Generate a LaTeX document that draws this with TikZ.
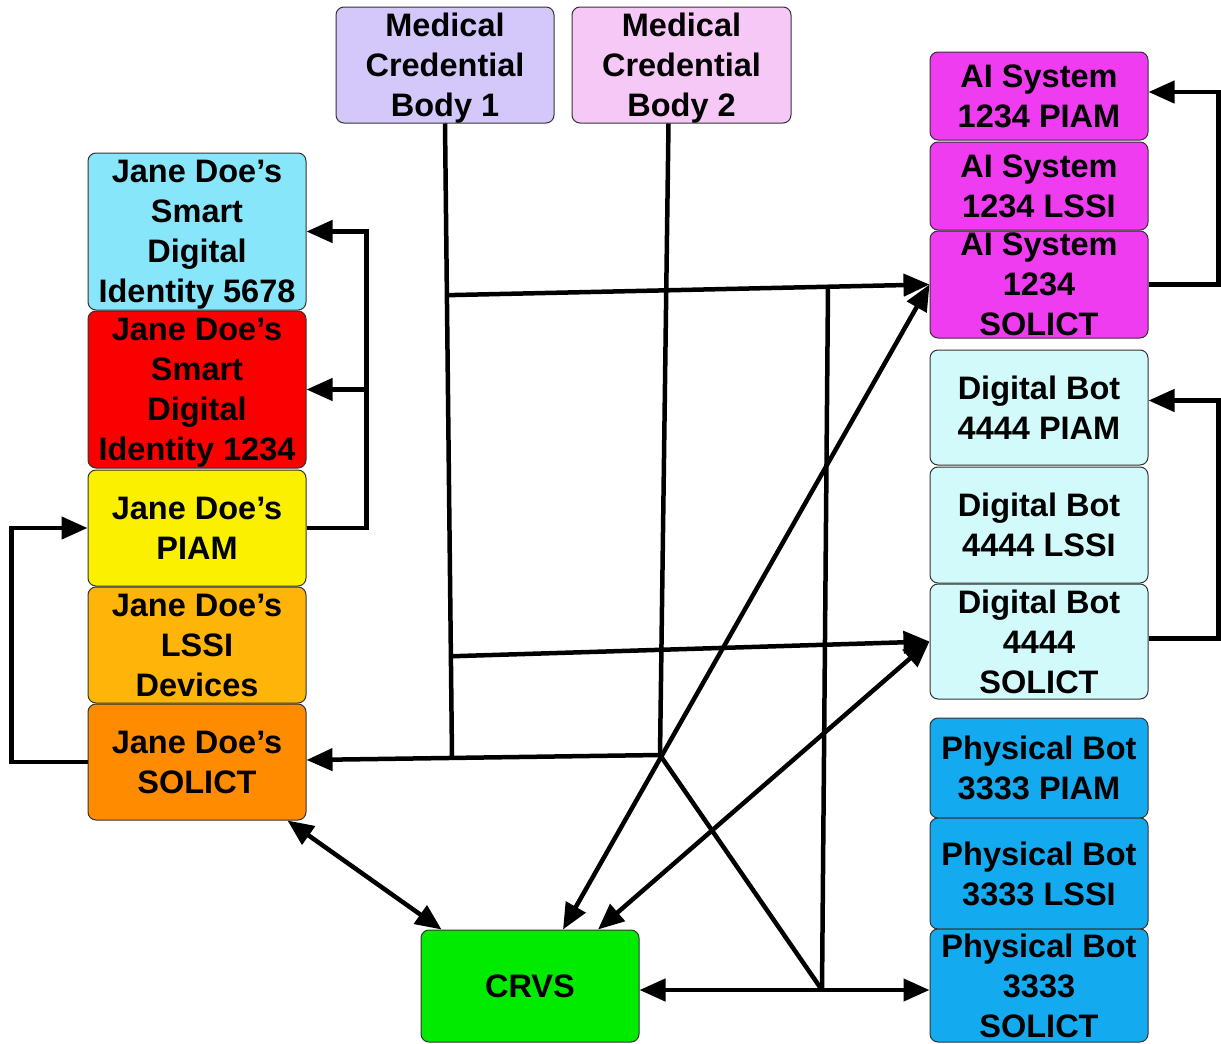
\documentclass[tikz,border=0pt]{standalone}
\usepackage{fontspec}
\setmainfont{Liberation Sans}
\usetikzlibrary{arrows.meta,calc}
\definecolor{cMCBa}{HTML}{D4C8FA}
\definecolor{cMCBb}{HTML}{F5C8F5}
\definecolor{cBlue}{HTML}{87E6FA}
\definecolor{cRed}{HTML}{FA0000}
\definecolor{cYel}{HTML}{FAF000}
\definecolor{cLssi}{HTML}{FFB40A}
\definecolor{cSol}{HTML}{FF8C00}
\definecolor{cAI}{HTML}{F03CF0}
\definecolor{cDB}{HTML}{D2FAFA}
\definecolor{cPB}{HTML}{14AAF0}
\definecolor{cCRVS}{HTML}{00EB00}
\begin{document}
\begin{tikzpicture}[x=1pt,y=-1pt,
  box/.style={draw=black!80,line width=1pt,rounded corners=8pt,inner sep=0pt,
    minimum width=218pt,align=center,text depth=0pt,
    font=\fontsize{32.5}{40}\selectfont\bfseries},
  conn/.style={line width=4.5pt,line cap=butt},
  arr/.style={conn,-{Triangle[length=26pt,width=22pt]}},
  darr/.style={conn,{Triangle[length=26pt,width=22pt]}-{Triangle[length=26pt,width=22pt]}}]
\useasboundingbox (0,0) rectangle (1221,1044);
% top
\node[box,fill=cMCBa,minimum height=116pt] (mcb1) at (445,65) {Medical\\Credential\\Body 1};
\node[box,fill=cMCBb,minimum height=116pt,minimum width=219pt] (mcb2) at (681.5,65) {Medical\\Credential\\Body 2};
% left column
\node[box,fill=cBlue,minimum height=157pt] (blue) at (197,231.5) {Jane Doe’s\\Smart\\Digital\\Identity 5678};
\node[box,fill=cRed,minimum height=157pt] (red) at (197,389.5) {Jane Doe’s\\Smart\\Digital\\Identity 1234};
\node[box,fill=cYel,minimum height=116pt] (yel) at (197,528) {Jane Doe’s\\PIAM};
\node[box,fill=cLssi,minimum height=116pt] (lssi) at (197,645) {Jane Doe’s\\LSSI\\Devices};
\node[box,fill=cSol,minimum height=116pt] (sol) at (197,762) {Jane Doe’s\\SOLICT};
% right column
\node[box,fill=cAI,minimum height=88pt] (aip) at (1039,96) {AI System\\1234 PIAM};
\node[box,fill=cAI,minimum height=88pt] (ail) at (1039,186) {AI System\\1234 LSSI};
\node[box,fill=cAI,minimum height=107pt] (ais) at (1039,284.5) {AI System\\1234\\SOLICT};
\node[box,fill=cDB,minimum height=115pt] (dbp) at (1039,407.5) {Digital Bot\\4444 PIAM};
\node[box,fill=cDB,minimum height=116pt] (dbl) at (1039,525) {Digital Bot\\4444 LSSI};
\node[box,fill=cDB,minimum height=115pt] (dbs) at (1039,641.5) {Digital Bot\\4444\\SOLICT};
\node[box,fill=cPB,minimum height=100pt,text depth=-16pt] (pbp) at (1039,768) {Physical Bot\\3333 PIAM};
\node[box,fill=cPB,minimum height=111pt,text depth=-4pt] (pbl) at (1039,873.5) {Physical Bot\\3333 LSSI};
\node[box,fill=cPB,minimum height=113pt] (pbs) at (1039,985.5) {Physical Bot\\3333\\SOLICT};
% CRVS
\node[box,fill=cCRVS,minimum height=112pt] (crvs) at (530,986) {CRVS};
% junctions
\coordinate (h1) at (452,757);
\coordinate (hub) at (660,755);
\coordinate (hub2) at (822,990);
\coordinate (m1a) at ($(mcb1.south)!0.271!(h1)$);
\coordinate (m1b) at ($(mcb1.south)!0.841!(h1)$);
\coordinate (v1) at (828,287);
% left loops
\draw[arr] (yel.east) -- ++(60,0) |- (blue.east);
\draw[arr] ([xshift=60pt]yel.east |- red.east) -- (red.east);
\draw[arr] (sol.west) -- ++(-76,0) |- (yel.west);
% right loops
\draw[arr] (ais.east) -- ++(70,0) |- ([yshift=4pt]aip.east);
\draw[arr] ([yshift=3pt]dbs.east) -- ++(70,0) |- ([yshift=7pt]dbp.east);
% Medical Credential Body 1
\draw[conn] (mcb1.south) -- (h1);
\draw[arr] (m1a) -- (ais.west);
\draw[arr] (m1b) -- (dbs.west);
% Medical Credential Body 2
\draw[conn] ([xshift=-13pt]mcb2.south) -- (hub);
\draw[arr] (hub) -- ([yshift=2pt]sol.east);
\draw[conn] (hub) -- (hub2);
\draw[conn] (v1) -- (hub2);
% diagonals to CRVS
\draw[darr] ([xshift=33pt]crvs.north) -- (ais.west);
\draw[darr] ([xshift=68pt]crvs.north) -- (dbs.west);
\draw[darr] ([xshift=-19pt]sol.south east) -- ([xshift=21pt]crvs.north west);
% bottom
\draw[arr] (hub2) -- (crvs.east |- hub2);
\draw[arr] (hub2) -- (pbs.west |- hub2);
\end{tikzpicture}
\end{document}
